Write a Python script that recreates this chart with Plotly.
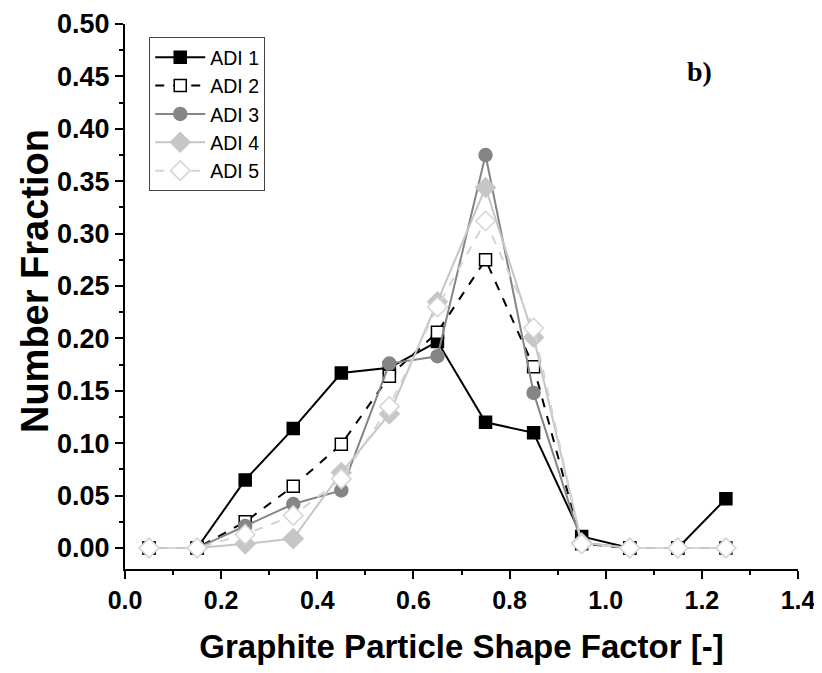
import plotly.graph_objects as go

shape_factor = [0.05, 0.15, 0.25, 0.35, 0.45, 0.55, 0.65, 0.75, 0.85, 0.95, 1.05, 1.15, 1.25]
adi1 = [0.0, 0.0, 0.065, 0.114, 0.167, 0.172, 0.197, 0.120, 0.110, 0.011, 0.0, 0.0, 0.047]
adi2 = [0.0, 0.0, 0.025, 0.059, 0.099, 0.164, 0.206, 0.275, 0.173, 0.004, 0.0, 0.0, 0.0]
adi3 = [0.0, 0.0, 0.021, 0.042, 0.055, 0.176, 0.183, 0.375, 0.148, 0.005, 0.0, 0.0, 0.0]
adi4 = [0.0, 0.0, 0.004, 0.009, 0.072, 0.128, 0.235, 0.344, 0.201, 0.005, 0.0, 0.0, 0.0]
adi5 = [0.0, 0.0, 0.013, 0.031, 0.066, 0.135, 0.230, 0.312, 0.210, 0.004, 0.0, 0.0, 0.0]

series = [
    ("ADI 1", adi1, "black", "solid", "square", "black", "black", 12),
    ("ADI 2", adi2, "black", "dash", "square", "white", "black", 12),
    ("ADI 3", adi3, "#858585", "solid", "circle", "#858585", "#858585", 13),
    ("ADI 4", adi4, "#c6c6c6", "solid", "diamond", "#c6c6c6", "#c6c6c6", 15),
    ("ADI 5", adi5, "#d4d4d4", "dash", "diamond", "white", "#d4d4d4", 15),
]

fig = go.Figure()
for name, vals, col, dash, sym, fill, edge, size in series:
    fig.add_trace(go.Scatter(
        x=shape_factor, y=vals, name=name, mode="lines+markers",
        line=dict(color=col, width=2, dash=dash),
        marker=dict(symbol=sym, size=size, color=fill,
                    line=dict(color=edge, width=1.5)),
    ))

xtick_font = dict(family="Liberation Sans, Arial", size=25, color="black", weight="bold")
ytick_font = dict(family="Liberation Sans, Arial", size=27, color="black", weight="bold")

fig.update_layout(
    width=814, height=665,
    margin=dict(l=117, r=24, t=16, b=104, autoexpand=False),
    plot_bgcolor="white", paper_bgcolor="white",
    showlegend=True,
    legend=dict(
        x=0.036, y=0.976, xanchor="left", yanchor="top",
        bgcolor="white", bordercolor="#444", borderwidth=1,
        font=dict(family="Liberation Sans, Arial", size=19.5, color="black"),
        tracegroupgap=0, itemwidth=50,
    ),
    xaxis=dict(
        range=[0, 1.4], tickvals=[0, 0.2, 0.4, 0.6, 0.8, 1.0, 1.2, 1.4],
        tickformat=".1f", ticks="outside", ticklen=8, tickwidth=1.5,
        tickcolor="black", showline=True, linecolor="black", linewidth=2,
        showgrid=False, zeroline=False, tickfont=xtick_font, automargin=False,
        minor=dict(dtick=0.1, tick0=0, ticks="outside", ticklen=4, tickwidth=1.5, tickcolor="black"),
        title=dict(text="Graphite Particle Shape Factor [-]",
                   font=dict(family="Liberation Sans, Arial", size=33, color="black", weight="bold"),
                   standoff=22),
    ),
    yaxis=dict(
        range=[-0.02, 0.5], tickvals=[0, 0.05, 0.1, 0.15, 0.2, 0.25, 0.3, 0.35, 0.4, 0.45, 0.5],
        tickformat=".2f", ticks="outside", ticklen=8, tickwidth=1.5,
        tickcolor="black", showline=True, linecolor="black", linewidth=2,
        showgrid=False, zeroline=False, tickfont=ytick_font, automargin=False,
        minor=dict(dtick=0.025, tick0=0, ticks="outside", ticklen=4, tickwidth=1.5, tickcolor="black"),
    ),
    annotations=[
        dict(
            text="b)", x=0.854, y=0.912, xref="paper", yref="paper",
            showarrow=False, xanchor="center", yanchor="middle",
            font=dict(family="Liberation Serif, Times New Roman", size=28, color="black", weight="bold"),
        ),
        dict(
            text="Number Fraction", x=-0.134, y=0.528, xref="paper", yref="paper",
            showarrow=False, xanchor="center", yanchor="middle", textangle=-90,
            font=dict(family="Liberation Sans, Arial", size=38, color="black", weight="bold"),
        ),
    ],
)

fig.write_html("out.html")
